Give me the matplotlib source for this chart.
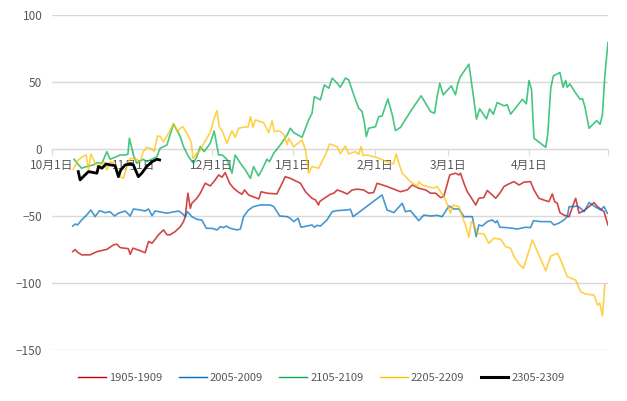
import matplotlib
matplotlib.use('Agg')
import matplotlib.pyplot as plt
from matplotlib.lines import Line2D

plt.rcParams['font.family'] = ['Noto Sans CJK SC', 'DejaVu Sans']

# days since 10月1日
d1905 = [7.9, 8.8, 9.7, 11.3, 14.5, 17.1, 20.9, 23.4, 24.7, 26.0, 29.1, 29.8, 30.8, 33.6, 35.5, 36.8, 38.1, 39.3,
         40.6, 42.5, 43.8, 45.0, 46.9, 48.9, 50.1, 50.8, 51.4, 51.8, 52.7, 53.3, 55.2, 56.5, 58.4, 60.3, 62.2, 63.5,
         64.8, 66.0, 67.7, 69.2, 71.1, 72.4, 73.4, 74.9, 78.8, 79.7, 81.9, 85.7, 87.7, 88.9, 90.8, 94.7, 96.6, 99.1,
         100.4, 101.6, 102.0, 102.9, 104.8, 106.1, 107.4, 108.7, 110.6, 112.5, 114.4, 116.3, 118.8, 120.7, 122.6,
         123.9, 127.7, 132.8, 135.4, 137.3, 139.8, 142.4, 144.3, 146.2, 148.1, 149.3, 150.4, 151.6, 153.8, 155.1,
         155.7, 157.0, 158.3, 159.5, 161.5, 162.7, 164.6, 165.9, 167.8, 169.1, 170.7, 172.3, 174.2, 176.1, 178.0,
         179.9, 182.4, 183.7, 185.6, 188.2, 189.4, 190.7, 191.6, 192.6, 193.6, 195.1, 197.1, 198.4, 199.6, 200.9,
         202.8, 204.7, 206.6, 207.9, 209.2, 210.4, 211.9]
v1905 = [-76.6, -75, -77, -79, -79, -76.6, -74.9, -71.6, -71, -73.6, -74.4, -78.6, -74, -75.9, -77.4, -69, -70.3, -67.4,
         -64, -60.4, -64, -64, -61.7, -58, -54.2, -50.5, -39.3, -33, -44.3, -40.5, -36.8, -33, -25.6, -27.6, -23.1, -19.4,
         -21.1, -17.7, -25.6, -29.3, -32.3, -33.8, -30.6, -34.3, -37.3, -31.9, -33, -33.6, -25.6, -20.7, -21.9, -25.6, -31.9, -36.8,
         -38, -41.8, -39.3, -38, -35.5, -33.8, -33, -30.6, -31.9, -33.6, -30.6, -30, -30.6, -33, -32.5,
         -25.6, -28, -31.9, -30.6, -26.9, -29.3, -30.6, -33, -33, -36.3, -35.5, -28, -19.4, -18.1, -19.4,
         -18.1, -25.6, -31.9, -35.5, -41.8, -36.8, -36.3, -31, -34.3, -36.8, -33, -28, -26, -24.4, -26.9,
         -24.8, -24.4, -30.6, -36.8, -38.6, -39.3, -33.6, -39.3, -40.5, -47.5, -49.3, -50.5, -43, -36.8, -47.9,
         -46, -43, -40, -43, -45, -46.8, -56.7]

d2005 = [7.9, 8.8, 9.7, 11.3, 13.2, 14.8, 16.4, 18.1, 20.2, 22.1, 23.8, 25.3, 27.9, 29.8, 31.0, 33.6, 35.5, 36.8, 38.1,
         39.3, 41.9, 43.8, 45.7, 48.2, 49.5, 50.8, 51.6, 53.3, 55.2, 57.1, 58.8, 61.0, 62.9, 64.1, 65.4, 66.4, 67.9,
         70.5, 71.8, 73.0, 74.9, 76.8, 79.4, 83.2, 84.5, 86.8, 89.6, 90.8, 92.1, 93.8, 94.9, 97.2, 99.1, 100.0, 101.0,
         102.3, 104.8, 106.8, 108.7, 112.5, 113.7, 114.8, 125.8, 127.7, 130.3, 133.5, 134.7, 136.6, 139.8, 141.7,
         144.3, 146.8, 148.7, 151.3, 153.2, 155.1, 157.0, 160.2, 161.7, 162.7, 164.0, 165.9, 167.8, 169.1, 169.7,
         170.7, 173.5, 177.4, 180.5, 182.4, 183.5, 186.3, 190.1, 191.3, 193.2, 195.1, 196.4, 197.1, 199.0, 200.3,
         201.5, 202.8, 204.7, 207.3, 209.2, 210.4, 211.7]
v2005 = [-57.5, -56, -56.7, -53, -49.3, -45.5, -50.5, -46, -47.5, -46.8, -50, -47.9, -46.3, -50, -44.8, -45.5, -46.3, -44.8, -49.8,
         -46.3, -47.2, -47.9, -47.2, -46.3, -47.9, -50.5, -46.8, -50.5, -52.5, -53, -59.2, -59.2, -60.4, -58, -58.7, -57.5, -59.2,
         -60.4, -59.7, -50.5, -45.5, -43, -41.8, -41.8, -43, -50, -50.5, -51.7, -54.2, -51.7, -58.4, -57.5, -56.7, -58.4, -57,
         -57.5, -53, -46.8, -46, -45.5, -45, -50.5, -34.3, -45.5, -47.5, -40.5, -46.8, -46, -53.5, -49.3,
         -50, -49.5, -50.5, -42.5, -44.8, -44.8, -50.5, -50.5, -65.4, -56.7, -57.5, -54.2, -53, -55, -53.5,
         -58.4, -58.7, -59.7, -58.4, -58.7, -53.5, -54.2, -54.2, -56.7, -55.4, -53, -50.5, -43, -43, -42.5,
         -44.3, -46.8, -40, -43.5, -45.5, -43, -48]

d2105 = [8.4, 9.8, 11.3, 13.2, 15.8, 17.1, 19.0, 20.9, 22.1, 24.0, 26.0, 27.9, 28.9, 29.5, 31.0, 32.3, 34.8, 36.1, 38.7,
         40.0, 41.2, 42.5, 43.8, 46.3, 48.9, 50.1, 52.0, 53.9, 55.2, 56.5, 58.0, 60.3, 61.8, 63.5, 64.8, 66.7, 68.6,
         69.8, 71.8, 73.7, 75.6, 76.8, 78.7, 80.0, 81.9, 82.9, 84.5, 87.0, 89.6, 90.8, 92.1, 95.3, 97.8, 99.1, 100.0,
         102.3, 103.8, 105.5, 106.8, 108.7, 109.9, 111.8, 113.1, 115.0, 116.9, 118.2, 119.1, 119.8, 120.7, 123.3,
         124.5, 125.8, 128.0, 129.7, 130.9, 132.8, 136.6, 140.7, 144.3, 145.8, 146.8, 147.8, 149.1, 152.2, 153.8,
         154.7, 155.7, 158.9, 160.2, 161.8, 163.0, 165.6, 166.8, 168.2, 169.7, 172.3, 173.5, 174.8, 179.3, 180.8,
         181.8, 182.8, 183.7, 188.2, 189.0, 190.1, 191.1, 193.6, 194.8, 195.8, 196.4, 197.4, 199.2, 201.3, 202.2,
         203.1, 204.7, 207.6, 208.9, 209.8, 210.7, 211.9]
v2105 = [-7.7, -11.2, -14.4, -13.1, -11.9, -10.2, -10.7, -2, -7.7, -6.2, -4.5, -4.5, -4, 8, -4.5, -10.7, -7.7, -9.5, -7,
         -5.7, 0.5, 1.7, 3, 18.7, 9.2, 1.7, -5.7, -10.7, -5.7, 1.7, -2, 4.2, 13.4, -4.5, -4.5, -7.7, -18.1,
         -4.5, -10.7, -15.7, -21.9, -13.1, -20.1, -15.7, -7.7, -9.5, -3.2, 3, 10.4, 15.4, 12.2, 8.7, 21.6, 26.6, 39,
         36.6, 47.8, 45.3, 52.8, 49, 46, 52.8, 51.5, 40.3, 30.4, 27.8, 19.2, 9.2, 15.4, 16.6,
         24.1, 24.5, 37.3, 25.4, 13.7, 16, 27.8, 39.6, 27.8, 26.6, 39, 49, 40.3, 47, 40.3,
         49, 54, 63.2, 45.3, 22.2, 29.9, 22.4, 29.9, 25.9, 34.6, 32.1, 33, 25.9, 37, 33.6,
         51, 44, 8, 1.2, 11.6, 45.3, 54.5, 57, 46, 51, 46, 48.5, 42.8, 37, 37.5,
         31.6, 15.4, 21.1, 18.4, 25.4, 54, 79.3]

d2205 = [8.1, 10.0, 11.7, 13.0, 13.9, 14.8, 16.4, 17.7, 19.8, 20.9, 22.1, 24.0, 26.0, 27.2, 28.5, 29.8, 32.3, 33.6, 34.8,
         36.1, 38.1, 38.9, 40.2, 41.2, 42.5, 44.4, 46.3, 47.8, 48.9, 49.9, 51.4, 53.1, 53.7, 55.0, 56.2, 57.1, 59.0,
         60.3, 61.6, 62.9, 63.7, 64.8, 66.7, 68.6, 69.8, 71.1, 73.0, 74.8, 75.6, 76.6, 77.5, 80.6, 82.6, 83.9, 84.7,
         86.8, 88.5, 89.6, 90.2, 92.1, 95.3, 96.6, 97.8, 99.1, 101.6, 104.2, 105.8, 108.7, 109.9, 111.8, 113.1,
         115.6, 116.9, 117.8, 118.6, 120.1, 124.0, 129.0, 130.2, 131.2, 132.2, 133.5, 136.6, 139.2, 139.8, 141.1,
         143.0, 145.5, 146.8, 148.1, 150.0, 151.9, 152.9, 155.1, 156.4, 157.6, 158.9, 159.8, 160.8, 162.1, 164.6,
         166.5, 168.4, 171.0, 172.9, 174.8, 176.1, 178.0, 179.7, 183.1, 185.6, 188.2, 190.1, 192.6, 193.9, 196.4,
         199.6, 201.5, 203.4, 206.6, 207.9, 208.8, 209.8, 210.7]
v2205 = [-15.2, -8.2, -5.7, -4.5, -15.7, -3.7, -10.7, -13.1, -9.5, -15.7, -9.5, -10.7, -20.7, -21.9, -13.1, -7, -7.7, -9.5, -2,
         1.2, 0, -2, 9.7, 9.2, 5.5, 11.6, 18.7, 13, 15.4, 16.6, 11.6, 4.7, -7, -3.7, -2, 1.7, 8,
         12.2, 21.6, 28.6, 16.6, 13.7, 4.2, 13.7, 8.7, 15.4, 16.2, 16.5, 24.1, 16.2, 21.6, 19.7, 12.2, 21.1, 13,
         13.4, 10.4, 3, 8, 1.7, 6.7, -0.7, -18.1, -13.1, -14.4, -4.5, 3.7, 1.7, -3.7, 2.2, -3.7,
         -2, -4, 1.7, -5, -4.5, -6.5, -10.7, -11, -3.7, -10.7, -18.1, -24.4, -28, -24.4, -26.9,
         -28, -29.3, -28, -31.9, -38, -47.9, -41.8, -43, -50.5, -56.7, -65.9, -54.2, -56, -62.9, -63.4,
         -70.4, -66.6, -67.4, -72.9, -74.1, -80.3, -85.8, -89, -67.9, -79.1, -90.8, -79.9, -77.8, -82.8, -95.3,
         -97.8, -106.5, -108.2, -109, -116.4, -115, -124.6, -101.5]

d2305 = [10.0, 10.7, 11.9, 13.9, 15.5, 17.1, 17.7, 19.0, 20.6, 22.1, 24.0, 25.3, 26.2, 27.9, 29.8, 31.0, 32.9, 34.2,
         36.1, 38.1, 40.0, 41.0]
v2305 = [-16.9, -23.1, -20.7, -16.9, -17.5, -18.1, -13.1, -14.4, -11.2, -11.9, -12.4, -20.7, -15.7, -11.9, -11.2, -11.9,
         -20.7, -18.1, -13.1, -9.5, -7.7, -8.2]

names = ['1905-1909', '2005-2009', '2105-2109', '2205-2209', '2305-2309']
colors = ['#C00000', '#0070C0', '#00B050', '#FFC000', '#000000']
tick_days = [0, 31, 61, 92, 123, 151, 182, 212]
tick_labels = ['10月1日', '11月1日', '12月1日', '1月1日', '2月1日', '3月1日', '4月1日', '']

fig = plt.figure(figsize=(6.27, 4.01), dpi=100)
ax = fig.add_axes([0.083, 0.127, 0.887, 0.836])

series = [(d1905, v1905), (d2005, v2005), (d2105, v2105), (d2205, v2205)]
for (d, v), c in zip(series, colors[:4]):
    ax.plot(d, v, color=c, lw=1.2, alpha=0.72, zorder=3)
ax.plot(d2305, v2305, color='black', lw=2.0, zorder=4)

ax.set_xlim(0, 212)
ax.set_ylim(-150, 100)
ax.set_yticks([-150, -100, -50, 0, 50, 100])
ax.yaxis.grid(True, color='#D9D9D9', lw=1)
ax.set_axisbelow(True)
for s in ['top', 'right', 'left']:
    ax.spines[s].set_visible(False)
ax.spines['bottom'].set_position(('data', 0))
ax.spines['bottom'].set_color('#D9D9D9')
ax.set_xticks(tick_days)
ax.set_xticklabels(tick_labels)
ax.tick_params(axis='x', direction='out', length=4, color='#D9D9D9', labelsize=8.5,
               labelcolor='#595959', pad=3)
ax.tick_params(axis='y', length=0, labelsize=8.5, labelcolor='#595959', pad=7)

handles = [Line2D([], [], color=c, lw=(2.2 if c == '#000000' else 1.0)) for c in colors]
fig.legend(handles, names, loc='center', bbox_to_anchor=(0.513, 0.057), ncol=5, frameon=False,
           fontsize=8, labelcolor='#595959', handlelength=2.5, handletextpad=0.3, columnspacing=1.45)

fig.savefig('out.png', dpi=100)
